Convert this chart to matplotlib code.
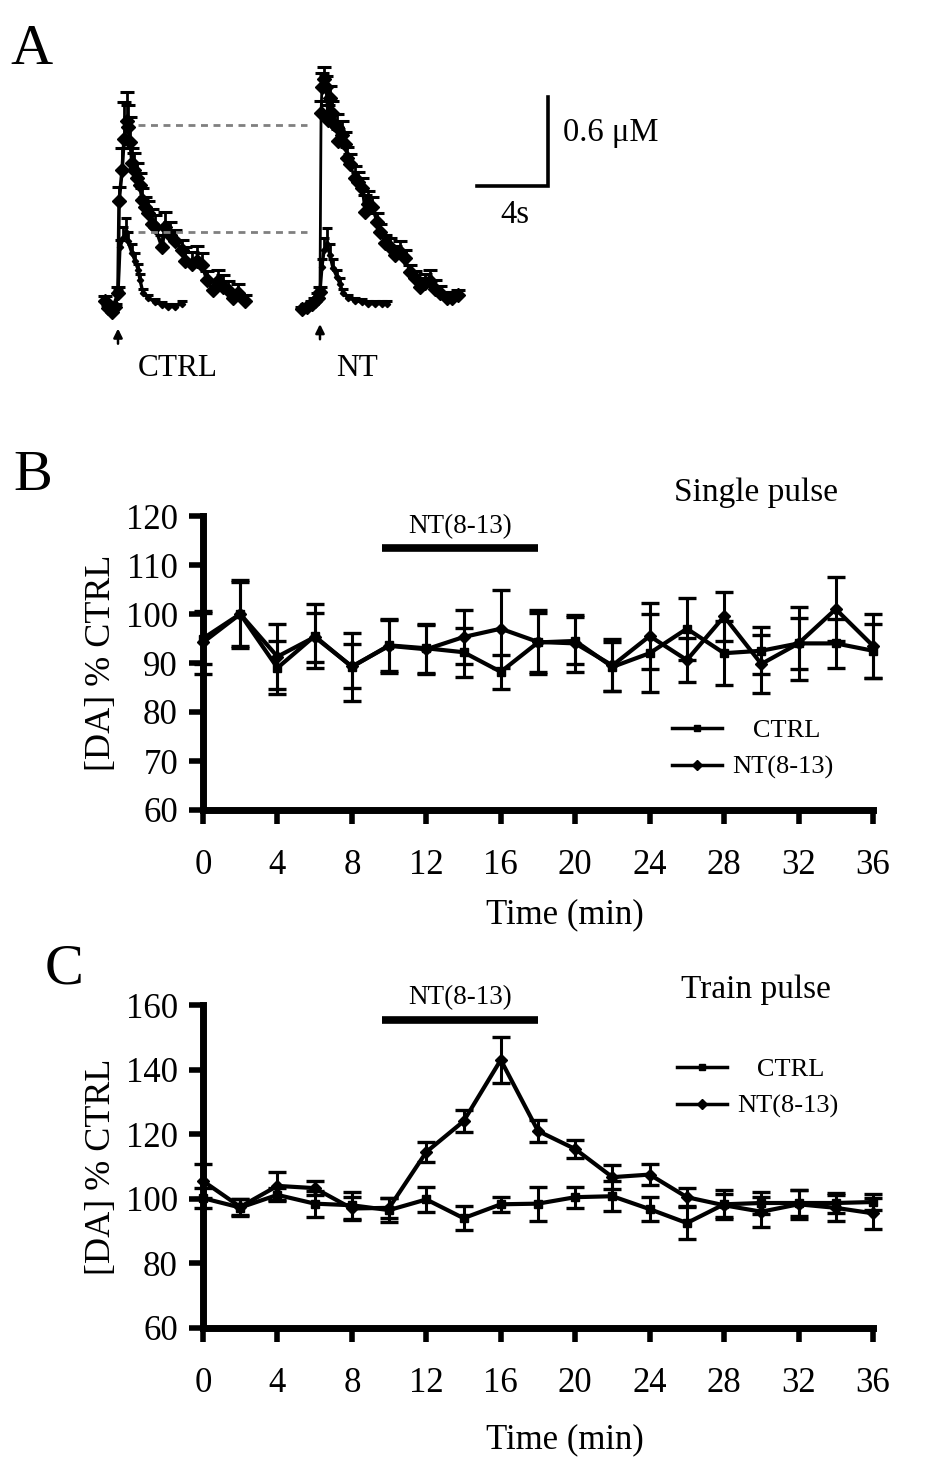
import numpy as np
import matplotlib
matplotlib.use("Agg")
import matplotlib.pyplot as plt
from matplotlib.lines import Line2D

plt.rcParams['font.family'] = ['Liberation Serif', 'DejaVu Serif']

# ---------------- Panel A: averaged DA traces (time s, conc uM, +SEM) ----------------
ctrl_big_t = [-0.73, -0.56, -0.34, -0.17, 0.00, 0.06, 0.23, 0.34, 0.51, 0.56, 0.68, 0.79, 0.90,
              1.07, 1.24, 1.35, 1.52, 1.69, 1.92, 2.08, 2.48, 2.65, 2.93, 3.21, 3.61, 3.77,
              4.17, 4.45, 4.73, 5.01, 5.35, 5.63, 5.92, 6.20, 6.48, 6.76, 7.15]
ctrl_big_c = [0.03, -0.02, -0.05, -0.01, 0.08, 0.70, 0.91, 1.12, 1.24, 1.20, 1.10, 0.96, 0.91,
              0.86, 0.81, 0.71, 0.66, 0.62, 0.55, 0.53, 0.39, 0.53, 0.47, 0.43, 0.37, 0.30,
              0.28, 0.30, 0.27, 0.17, 0.10, 0.16, 0.12, 0.10, 0.05, 0.08, 0.03]
ctrl_big_e = [0.03, 0.02, 0.03, 0.02, 0.04, 0.10, 0.15, 0.25, 0.20, 0.15, 0.17, 0.10, 0.12,
              0.10, 0.08, 0.08, 0.07, 0.08, 0.10, 0.08, 0.08, 0.10, 0.09, 0.08, 0.07, 0.09,
              0.08, 0.10, 0.08, 0.06, 0.07, 0.08, 0.08, 0.06, 0.05, 0.06, 0.04]

ctrl_small_t = [-0.56, -0.34, 0.00, 0.11, 0.28, 0.45, 0.56, 0.79, 0.96, 1.13, 1.24, 1.41,
                1.69, 2.08, 2.48, 2.82, 3.21, 3.61]
ctrl_small_c = [0.00, -0.03, 0.08, 0.39, 0.45, 0.49, 0.43, 0.35, 0.30, 0.24, 0.17, 0.08,
                0.05, 0.02, 0.00, -0.01, -0.01, 0.01]
ctrl_small_e = [0.02, 0.02, 0.02, 0.05, 0.08, 0.10, 0.06, 0.06, 0.05, 0.04, 0.04, 0.03,
                0.02, 0.02, 0.02, 0.02, 0.02, 0.02]

nt_big_t = [-1.01, -0.73, -0.45, -0.28, -0.11, 0.00, 0.06, 0.11, 0.23, 0.34, 0.45, 0.56, 0.68,
            0.79, 0.96, 1.01, 1.24, 1.41, 1.52, 1.69, 1.97, 2.14, 2.37, 2.54, 2.70, 2.93,
            3.21, 3.38, 3.66, 3.94, 4.23, 4.51, 4.79, 5.07, 5.35, 5.63, 5.92, 6.20, 6.48,
            6.76, 7.15, 7.44, 7.77]
nt_big_c = [-0.03, -0.01, 0.01, 0.03, 0.05, 0.09, 1.30, 1.47, 1.53, 1.47, 1.25, 1.40, 1.30,
            1.22, 1.20, 1.11, 1.15, 1.09, 0.99, 0.95, 0.86, 0.83, 0.79, 0.63, 0.68, 0.66,
            0.56, 0.49, 0.42, 0.39, 0.34, 0.36, 0.32, 0.22, 0.18, 0.12, 0.15, 0.16, 0.11,
            0.08, 0.05, 0.05, 0.07]
nt_big_e = [0.02, 0.02, 0.02, 0.02, 0.03, 0.03, 0.08, 0.10, 0.08, 0.08, 0.10, 0.08, 0.08,
            0.07, 0.09, 0.08, 0.09, 0.08, 0.08, 0.07, 0.08, 0.07, 0.07, 0.11, 0.09, 0.07,
            0.06, 0.06, 0.05, 0.06, 0.06, 0.07, 0.05, 0.05, 0.05, 0.06, 0.06, 0.08, 0.06,
            0.05, 0.04, 0.04, 0.03]

nt_small_t = [-0.11, 0.00, 0.11, 0.23, 0.39, 0.56, 0.73, 0.96, 1.13, 1.30, 1.58, 1.97,
              2.37, 2.70, 3.10, 3.49, 3.77]
nt_small_c = [0.05, 0.09, 0.26, 0.37, 0.41, 0.34, 0.25, 0.19, 0.14, 0.08, 0.05, 0.03,
              0.02, 0.01, 0.01, 0.01, 0.01]
nt_small_e = [0.01, 0.02, 0.05, 0.08, 0.11, 0.07, 0.06, 0.05, 0.04, 0.03, 0.02, 0.02,
              0.02, 0.02, 0.02, 0.02, 0.02]

# ---------------- Panels B and C: [DA] % CTRL vs time ----------------
time_min = [0, 2, 4, 6, 8, 10, 12, 14, 16, 18, 20, 22, 24, 26, 28, 30, 32, 34, 36]
x_ticks = [0, 4, 8, 12, 16, 20, 24, 28, 32, 36]

b_ctrl = [95.0, 100.0, 89.0, 95.5, 89.2, 93.6, 93.0, 92.2, 88.2, 94.2, 94.5, 89.2, 92.0,
          97.0, 92.0, 92.5, 94.0, 94.0, 92.5]
b_ctrl_err = [5.2, 6.5, 5.4, 6.5, 7.0, 5.2, 5.0, 5.0, 3.5, 6.0, 4.8, 5.0, 8.0, 6.3, 6.5,
              4.8, 5.2, 5.0, 5.5]
b_nt = [94.2, 100.0, 91.3, 95.3, 89.3, 93.5, 92.8, 95.3, 97.0, 94.3, 94.0, 89.5, 95.5,
        90.6, 99.5, 89.8, 94.0, 101.0, 93.5]
b_nt_err = [6.5, 7.0, 6.6, 5.0, 4.5, 5.5, 5.0, 5.6, 8.0, 6.5, 5.8, 5.3, 6.8, 4.5, 5.0,
            6.0, 7.5, 6.5, 6.5]

c_ctrl = [100.2, 97.3, 101.2, 98.5, 98.0, 96.5, 99.8, 94.0, 98.3, 98.5, 100.5, 100.8, 96.8,
          92.5, 98.3, 98.7, 98.7, 98.7, 99.0]
c_ctrl_err = [3.0, 2.5, 2.0, 4.0, 4.2, 3.8, 3.8, 3.8, 2.3, 5.3, 3.3, 4.7, 3.8, 5.0, 4.5,
              3.5, 4.0, 3.0, 2.5]
c_nt = [105.5, 97.5, 104.0, 103.3, 97.0, 97.2, 114.5, 124.0, 143.0, 121.0, 115.4, 106.7,
        107.5, 100.5, 98.0, 96.0, 98.3, 97.2, 95.5]
c_nt_err = [5.3, 2.5, 4.3, 2.2, 3.5, 3.0, 3.0, 3.4, 7.0, 3.4, 2.8, 3.8, 3.3, 2.8, 3.5,
            4.6, 4.5, 4.0, 4.7]

drug_on = (9.6, 18.0)  # NT(8-13) application, min

W, H = 946, 1467
fig = plt.figure(figsize=(W / 100, H / 100), dpi=100)


def px_axes(left, top, right, bottom):
    return fig.add_axes([left / W, 1 - bottom / H, (right - left) / W, (bottom - top) / H])


# ---------------- Panel A ----------------
axA = px_axes(95, 55, 700, 390)
axA.set_xlim(-1.296, 32.79)
axA.set_ylim(-0.574, 1.689)
axA.axis('off')
NT_SHIFT = 11.38  # horizontal offset of NT traces on the page


def trace(ax, t, c, e, shift, lw, ms, cap):
    t = np.asarray(t) + shift
    eb = ax.errorbar(t, c, yerr=[np.zeros(len(e)), e], fmt='none', ecolor='k',
                     elinewidth=2.0, capsize=cap, capthick=2.2)
    eb[1][0].set_visible(False)
    ax.plot(t, c, color='k', lw=lw, marker='D', ms=ms)


trace(axA, ctrl_small_t, ctrl_small_c, ctrl_small_e, 0, 2.4, 3.2, 3.5)
trace(axA, ctrl_big_t, ctrl_big_c, ctrl_big_e, 0, 2.6, 7.5, 5)
trace(axA, nt_small_t, nt_small_c, nt_small_e, NT_SHIFT, 2.4, 3.2, 3.5)
trace(axA, nt_big_t, nt_big_c, nt_big_e, NT_SHIFT, 2.0, 7.5, 5)

# dashed reference lines at CTRL peak levels
for lvl in (max(ctrl_big_c) - 0.025, max(ctrl_small_c)):
    axA.plot([1.13, 10.65], [lvl, lvl], ls=(0, (2.5, 2)), color='#808080', lw=2.0)

# stimulus arrows
for x0, y0 in ((0, -0.28), (NT_SHIFT, -0.25)):
    axA.annotate('', xy=(x0, y0 + 0.14), xytext=(x0, y0),
                 arrowprops=dict(arrowstyle='-|>', lw=1.8, color='k', mutation_scale=13))

axA.text(3.38, -0.43, 'CTRL', fontsize=22.5, ha='center', va='center')
axA.text(NT_SHIFT + 2.08, -0.43, 'NT', fontsize=22.5, ha='center', va='center')

# scale bar: 4 s, 0.6 uM
sb_x, sb_y = 24.23, 0.804
axA.plot([sb_x - 4, sb_x, sb_x], [sb_y, sb_y, sb_y + 0.6], color='k', lw=2.6,
         solid_joinstyle='miter')
axA.text(sb_x + 0.84, sb_y + 0.36, '0.6 \u03bcM', fontsize=23.5, ha='left', va='center')
axA.text(sb_x - 1.86, sb_y - 0.195, '4s', fontsize=23.5, ha='center', va='center')


# ---------------- Panels B and C ----------------
def time_panel(ax, ctrl, ctrl_err, nt, nt_err, ylim, yticks, bar_y, txt_y, title, title_y):
    for y, err, mk, ms in ((ctrl, ctrl_err, 's', 6), (nt, nt_err, 'D', 6.5)):
        eb = ax.errorbar(time_min, y, yerr=err, fmt='-' + mk, color='k', lw=3, ms=ms,
                         elinewidth=2.2, capsize=6.5, capthick=2.4)
        for art in [eb[0], *eb[1], *eb[2]]:
            art.set_clip_on(False)
    ax.set_xlim(0, 36)
    ax.set_ylim(*ylim)
    ax.set_xticks(x_ticks)
    ax.set_yticks(yticks)
    for s in ('top', 'right'):
        ax.spines[s].set_visible(False)
    for s in ('left', 'bottom'):
        ax.spines[s].set_linewidth(5)
    ax.tick_params(direction='out', length=10, width=4, labelsize=25)
    ax.tick_params(axis='x', pad=18)
    ax.tick_params(axis='y', pad=8)
    ax.set_ylabel('[DA] % CTRL', fontsize=26, va='center')
    ax.set_xlabel('Time (min)', fontsize=25, va='center')

    ax.plot(drug_on, [bar_y, bar_y], color='k', lw=5.5, solid_capstyle='butt', clip_on=False)
    ax.text(sum(drug_on) / 2, txt_y, 'NT(8-13)', fontsize=19.5, ha='center', va='center')
    ax.text(29.7, title_y, title, fontsize=24, ha='center', va='center')

    handles = [Line2D([], [], color='k', lw=2.5, marker='s', ms=5),
               Line2D([], [], color='k', lw=2.5, marker='D', ms=5.5)]
    return handles


axB = px_axes(203, 516, 873, 810)
hB = time_panel(axB, b_ctrl, b_ctrl_err, b_nt, b_nt_err, (60, 120),
                [60, 70, 80, 90, 100, 110, 120], 113.5, 117.8, 'Single pulse', 124.7)
axB.yaxis.set_label_coords(-0.152, 0.5)
axB.xaxis.set_label_coords(0.54, -0.357)
axB.legend(hB, ['   CTRL', 'NT(8-13)'], frameon=False, fontsize=19, loc='upper left',
           bbox_to_anchor=(0.700, 0.31), borderpad=0, borderaxespad=0,
           handlelength=1.9, handletextpad=0.4, labelspacing=0.5)

axC = px_axes(203, 1005, 873, 1328)
hC = time_panel(axC, c_ctrl, c_ctrl_err, c_nt, c_nt_err, (60, 160),
                [60, 80, 100, 120, 140, 160], 155.4, 162.2, 'Train pulse', 164.6)
axC.yaxis.set_label_coords(-0.152, 0.5)
axC.xaxis.set_label_coords(0.54, -0.347)
axC.legend(hC, ['   CTRL', 'NT(8-13)'], frameon=False, fontsize=19, loc='upper left',
           bbox_to_anchor=(0.707, 0.837), borderpad=0, borderaxespad=0,
           handlelength=1.9, handletextpad=0.4, labelspacing=0.5)

# panel letters
fig.text(10 / W, 1 - 64 / H, 'A', fontsize=42, va='baseline')
fig.text(13 / W, 1 - 490 / H, 'B', fontsize=42, va='baseline')
fig.text(45 / W, 1 - 983 / H, 'C', fontsize=42, va='baseline')

fig.savefig('out.png', dpi=100)
